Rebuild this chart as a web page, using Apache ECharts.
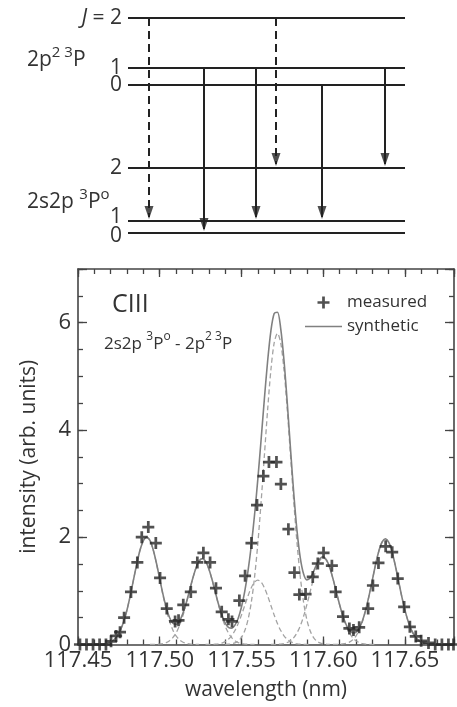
<!DOCTYPE html>
<html><head><meta charset="utf-8">
<script src="https://cdn.jsdelivr.net/npm/echarts@6/dist/echarts.min.js"></script>
<style>html,body{margin:0;padding:0;background:#fff}#c{width:457px;height:707px}</style>
</head><body><div id="c"></div>
<script>
// ---------- level diagram data ----------
const levelY = [215, 165, 148, 65, 12, 0];           // energy positions (arb.)
const levelLabels = ['{i|J} = 2', '1', '0', '2', '{up|1}', '{dn|0}'];
const transFrom = [0, 1, 1, 0, 2, 1];
const transTo   = [4, 5, 4, 3, 4, 3];
const transX    = [21, 76, 128, 148, 194, 257];
const transDashed = [true, false, false, true, false, false];

// ---------- spectrum data ----------
const measuredX = [117.4512,117.4552,117.4592,117.4632,117.4671,117.4702,117.4733,117.4757,117.4782,117.4824,
  117.4863,117.4890,117.4930,117.4976,117.5002,117.5043,117.5094,117.5115,117.5144,117.5190,
  117.5230,117.5267,117.5308,117.5344,117.5379,117.5420,117.5442,117.5487,117.5522,117.5561,
  117.5595,117.5634,117.5668,117.5714,117.5741,117.5787,117.5824,117.5854,117.5892,117.5936,
  117.5967,117.6002,117.6053,117.6076,117.6121,117.6160,117.6185,117.6220,117.6275,117.6304,
  117.6338,117.6382,117.6422,117.6456,117.6495,117.6530,117.6566,117.6599,117.6644,117.6685,
  117.6726,117.6766,117.6797];
const measuredY = [0,0,0,0,0,0.06,0.16,0.23,0.50,0.98,
  1.53,2.00,2.19,1.89,1.24,0.67,0.43,0.45,0.74,0.98,
  1.53,1.71,1.53,1.05,0.61,0.47,0.43,0.82,1.28,1.89,
  2.60,3.14,3.40,3.40,2.99,2.15,1.34,0.93,0.94,1.26,
  1.51,1.71,1.47,0.98,0.52,0.30,0.27,0.32,0.67,1.10,
  1.52,1.83,1.72,1.23,0.70,0.33,0.15,0.07,0.03,0,
  0,0,0];

const synthStart = 117.45, synthStep = 0.002;
const synthetic = [0,0,0,0,0,0.001,0.002,0.004,0.010,0.022,
  0.046,0.088,0.159,0.271,0.433,0.649,0.916,1.213,1.510,1.765,
  1.938,2.000,1.939,1.766,1.514,1.221,0.934,0.685,0.503,0.398,
  0.375,0.434,0.566,0.754,0.980,1.212,1.414,1.551,1.600,1.551,
  1.413,1.211,0.976,0.745,0.548,0.401,0.317,0.302,0.360,0.490,
  0.699,0.991,1.372,1.845,2.418,3.083,3.818,4.577,5.284,5.848,
  6.171,6.194,5.889,5.299,4.511,3.642,2.811,2.115,1.611,1.314,
  1.205,1.238,1.355,1.494,1.600,1.633,1.575,1.432,1.224,0.985,
  0.746,0.536,0.372,0.264,0.215,0.228,0.304,0.444,0.648,0.906,
  1.196,1.487,1.739,1.909,1.970,1.909,1.739,1.487,1.195,0.902,
  0.640,0.426,0.267,0.157,0.086,0.045,0.022,0.010,0.004,0.002,
  0,0,0,0,0,0];

// components: start index on the synthetic grid + values
const compStart = [5, 22, 39, 45, 59, 78];
const comp1 = [0.001,0.002,0.004,0.010,0.022,0.046,0.088,0.159,0.271,0.433,0.649,0.916,1.213,1.510,1.765,1.938,2.0,1.938,1.765,1.510,1.213,0.916,0.649,0.433,0.271,0.159,0.088,0.046,0.022,0.010,0.004,0.002,0.001];
const comp2 = [0,0.001,0.004,0.008,0.018,0.036,0.070,0.127,0.216,0.346,0.520,0.732,0.970,1.208,1.412,1.551,1.6,1.551,1.412,1.208,0.970,0.732,0.520,0.346,0.216,0.127,0.070,0.036,0.018,0.008,0.004,0.001,0];
const comp3 = [0,0.001,0.003,0.006,0.013,0.027,0.053,0.096,0.162,0.260,0.390,0.549,0.728,0.906,1.059,1.163,1.2,1.163,1.059,0.906,0.728,0.549,0.390,0.260,0.162,0.096,0.053,0.027,0.013,0.006,0.003,0.001,0];
const comp4 = [0.002,0.005,0.013,0.030,0.064,0.132,0.255,0.462,0.785,1.255,1.883,2.655,3.518,4.378,5.119,5.621,5.8,5.621,5.119,4.378,3.518,2.655,1.883,1.255,0.785,0.462,0.255,0.132,0.064,0.030,0.013,0.005,0.002];
const comp5 = [0,0.001,0.004,0.008,0.018,0.037,0.071,0.129,0.219,0.350,0.526,0.742,0.983,1.223,1.430,1.570,1.62,1.570,1.430,1.223,0.983,0.742,0.526,0.350,0.219,0.129,0.071,0.037,0.018,0.008,0.004,0.001,0];
const comp6 = [0.001,0.002,0.004,0.010,0.022,0.045,0.086,0.157,0.267,0.426,0.640,0.902,1.195,1.487,1.739,1.909,1.97,1.909,1.739,1.487,1.195,0.902,0.640,0.426,0.267,0.157,0.086,0.045,0.022,0.010,0.004,0.002,0.001];
const components = [comp1, comp2, comp3, comp4, comp5, comp6];

const xTickLabels = ['117.45','117.50','117.55','117.60','117.65'];
const yTickLabels = ['0','2','4','6'];

// ---------- styling ----------
const FONT = '"Open Sans", "Liberation Sans", sans-serif';
const TXT = '#333';
const AX = '#444';
const PLUS = 'path://M4.25,0 H6.75 V4.25 H11 V6.75 H6.75 V11 H4.25 V6.75 H0 V4.25 H4.25 Z';
const DASHICON = 'path://M0,0 H37 V1.6 H0 Z';
const HEAD = 'path://M0,0 L10,0 L5,13 Z';

const gx = i => +(synthStart + i * synthStep).toFixed(4);

const series = [];
// energy levels
levelY.forEach(y => series.push({
  type: 'line', xAxisIndex: 0, yAxisIndex: 0, data: [[0, y], [277, y]],
  symbol: 'none', lineStyle: { color: '#222', width: 2 }, silent: true, z: 2
}));
// transitions
transX.forEach((x, i) => series.push({
  type: 'line', xAxisIndex: 0, yAxisIndex: 0,
  data: [[x, levelY[transFrom[i]]], [x, levelY[transTo[i]] + 4]],
  symbol: 'none', silent: true, z: 3,
  lineStyle: { color: '#222', width: 2, type: transDashed[i] ? [8, 5] : 'solid' }
}));
series.push({
  type: 'scatter', xAxisIndex: 0, yAxisIndex: 0,
  data: transX.map((x, i) => [x, levelY[transTo[i]] + 2]),
  symbol: HEAD, symbolSize: [9, 13], symbolOffset: [0, -6.5],
  itemStyle: { color: '#222' }, silent: true, z: 4
});
// dashed components
components.forEach((c, k) => series.push({
  type: 'line', xAxisIndex: 1, yAxisIndex: 2, name: 'comp' + k,
  data: c.map((v, i) => [gx(compStart[k] + i), v]),
  symbol: 'none', smooth: 0.3, silent: true, z: 2,
  lineStyle: { color: '#a3a3a3', width: 1.3, type: [5, 3] }
}));
// synthetic
series.push({
  type: 'line', xAxisIndex: 1, yAxisIndex: 2, name: 'synthetic',
  data: synthetic.map((v, i) => [gx(i), v]),
  symbol: 'none', smooth: 0.3, silent: true, z: 3,
  lineStyle: { color: '#808080', width: 1.6 }, itemStyle: { color: '#808080' }
});
// measured
series.push({
  type: 'scatter', xAxisIndex: 1, yAxisIndex: 2, name: 'measured',
  data: measuredX.map((x, i) => [x, measuredY[i]]),
  symbol: PLUS, symbolSize: 12, symbolKeepAspect: true,
  itemStyle: { color: '#262626' }, silent: true, z: 5
});

const xMajorFmt = v => {
  const k = (v - 117.45) / 0.05;
  const r = Math.round(k);
  return Math.abs(k - r) < 1e-6 && r >= 0 && r < xTickLabels.length ? xTickLabels[r] : '';
};
const yMajorFmt = v => {
  const k = v / 2, r = Math.round(k);
  return Math.abs(k - r) < 1e-6 && r >= 0 && r < yTickLabels.length ? yTickLabels[r] : '';
};

const noAx = { show: false };
function specX(pos, interval, len, line, labels) {
  return {
    gridIndex: 1, type: 'value', min: 117.45, max: 117.68, interval: interval, position: pos,
    axisLine: { show: line, onZero: false, lineStyle: { color: AX, width: 1.6 } },
    axisTick: { show: true, inside: true, length: len, lineStyle: { color: AX, width: 1.3 } },
    axisLabel: labels ? { show: true, formatter: xMajorFmt, fontSize: 22, color: TXT, fontFamily: FONT, margin: 5 } : { show: false },
    splitLine: noAx
  };
}
function specY(pos, interval, len, line, labels) {
  return {
    gridIndex: 1, type: 'value', min: 0, max: 7, interval: interval, position: pos,
    axisLine: { show: line, onZero: false, lineStyle: { color: AX, width: 1.6 } },
    axisTick: { show: true, inside: true, length: len, lineStyle: { color: AX, width: 1.3 } },
    axisLabel: labels ? { show: true, formatter: yMajorFmt, fontSize: 22, color: TXT, fontFamily: FONT, margin: 7 } : { show: false },
    splitLine: noAx
  };
}
const lvlTxt = { fontSize: 21, color: TXT, fontFamily: FONT };
function levelAxis(values) {
  return {
    gridIndex: 0, type: 'value', min: 0, max: 215, position: 'left', offset: 0,
    axisLine: noAx, axisTick: noAx, splitLine: noAx,
    axisLabel: {
      show: true, customValues: values, margin: 6, hideOverlap: false,
      formatter: v => { const i = levelY.indexOf(v); return i >= 0 ? levelLabels[i] : ''; },
      fontSize: 21, color: TXT, fontFamily: FONT,
      rich: {
        i: Object.assign({ fontStyle: 'italic' }, lvlTxt),
        up: Object.assign({ padding: [0, 0, 7, 0] }, lvlTxt),
        dn: Object.assign({ padding: [6, 0, 0, 0] }, lvlTxt)
      }
    }
  };
}

const xb = specX('bottom', 0.05, 8, true, true);
xb.name = 'wavelength (nm)';
xb.nameLocation = 'middle';
xb.nameGap = 35;
xb.nameTextStyle = { fontSize: 21, color: TXT, fontFamily: FONT };
const yl = specY('left', 2, 9, true, true);
yl.name = 'intensity (arb. units)';
yl.nameLocation = 'middle';
yl.nameGap = 38;
yl.nameTextStyle = { fontSize: 21, color: TXT, fontFamily: FONT };

const supRich = (n, s, lh) => ({
  n: { fontSize: n, lineHeight: lh, verticalAlign: 'bottom', fill: TXT, fontFamily: FONT },
  s: { fontSize: s, lineHeight: s + 2, verticalAlign: 'top', fill: TXT, fontFamily: FONT }
});

const option = {
  animation: false,
  backgroundColor: '#fff',
  grid: [
    { left: 128, right: 52, top: 18, bottom: 474 },
    { left: 78, right: 3, top: 269, bottom: 62.5 }
  ],
  xAxis: [
    { gridIndex: 0, type: 'value', min: 0, max: 277, show: false },
    xb,
    specX('bottom', 0.01, 5, false, false),
    specX('top', 0.05, 8, true, false),
    specX('top', 0.01, 5, false, false)
  ],
  yAxis: [
    levelAxis(levelY.filter((v, i) => i % 2 === 0)),
    levelAxis(levelY.filter((v, i) => i % 2 === 1)),
    yl,
    specY('left', 0.5, 5, false, false),
    specY('right', 2, 9, true, false),
    specY('right', 0.5, 5, false, false)
  ],
  legend: {
    data: [{ name: 'measured', icon: PLUS }, { name: 'synthetic', icon: DASHICON }],
    orient: 'vertical', left: 300, top: 289, itemWidth: 37, itemHeight: 12, itemGap: 7,
    selectedMode: false, textStyle: { fontSize: 17, color: TXT, fontFamily: FONT }
  },
  graphic: [
    { type: 'text', x: 112, y: 305, silent: true,
      style: { text: 'CIII', fill: TXT, fontSize: 25, fontFamily: FONT, verticalAlign: 'middle' } },
    { type: 'text', x: 104, y: 342, silent: true,
      style: { text: '{n|2s2p }{s|3}{n|P}{s|o}{n| - 2p}{s|2 3}{n|P}', fill: TXT, fontFamily: FONT,
        verticalAlign: 'middle', rich: supRich(17, 12, 22) } },
    { type: 'text', x: 27, y: 58, silent: true,
      style: { text: '{n|2p}{s|2 3}{n|P}', fill: TXT, fontFamily: FONT,
        verticalAlign: 'middle', rich: supRich(21, 15, 26) } },
    { type: 'text', x: 27, y: 200, silent: true,
      style: { text: '{n|2s2p }{s|3}{n|P}{s|o}', fill: TXT, fontFamily: FONT,
        verticalAlign: 'middle', rich: supRich(21, 15, 26) } }
  ],
  series: series
};

const chart = echarts.init(document.getElementById('c'), null, { renderer: 'canvas' });
chart.setOption(option);
</script></body></html>
